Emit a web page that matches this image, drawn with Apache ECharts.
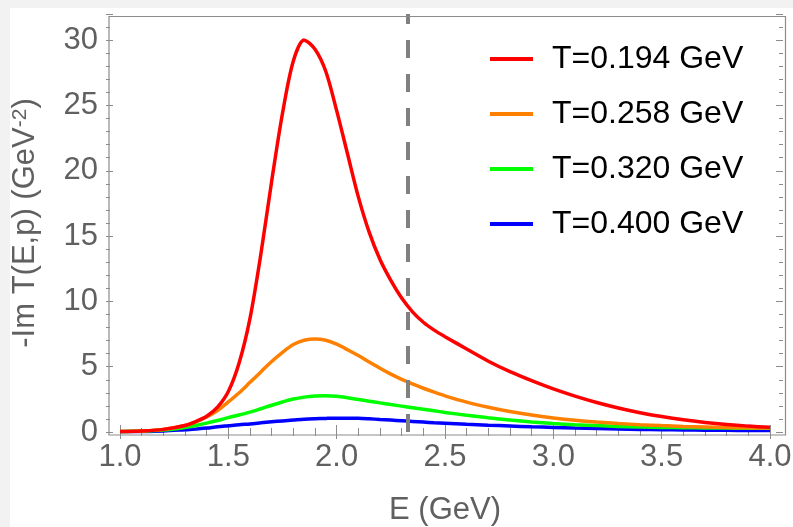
<!DOCTYPE html>
<html>
<head>
<meta charset="utf-8">
<script src="https://cdn.jsdelivr.net/npm/echarts@6/dist/echarts.min.js"></script>
<style>
  html, body { margin: 0; padding: 0; background: #f2f2f2; }
  #chart { position: absolute; left: 10px; top: 8px; width: 783px; height: 519px; background: #fff; }
</style>
</head>
<body>
<div id="chart"></div>
<script>
// energy grid (GeV)
const energies = [1.0, 1.1, 1.2, 1.3, 1.35, 1.4, 1.45, 1.5, 1.55, 1.6, 1.65, 1.7, 1.75, 1.8, 1.85, 1.9, 1.95, 2.0, 2.05, 2.1, 2.15, 2.2, 2.25, 2.3, 2.35, 2.4, 2.45, 2.5, 2.6, 2.7, 2.8, 2.9, 3.0, 3.1, 3.2, 3.3, 3.4, 3.5, 3.6, 3.7, 3.8, 3.9, 4.0]

// -Im T(E,p) per temperature
const t194 = [0.03, 0.08, 0.2, 0.5, 0.8, 1.2, 1.9, 3.1, 5.3, 8.7, 13.6, 19.2, 24.4, 28.4, 30.0, 29.3, 27.6, 24.6, 21.3, 18.0, 15.3, 13.2, 11.6, 10.25, 9.2, 8.4, 7.8, 7.3, 6.35, 5.42, 4.62, 3.93, 3.3, 2.75, 2.26, 1.84, 1.48, 1.18, 0.93, 0.73, 0.57, 0.45, 0.36]
const t258 = [0.03, 0.08, 0.2, 0.5, 0.78, 1.15, 1.65, 2.3, 3.0, 3.8, 4.6, 5.4, 6.1, 6.7, 7.02, 7.12, 7.02, 6.72, 6.3, 5.85, 5.36, 4.88, 4.43, 4.03, 3.68, 3.35, 3.05, 2.77, 2.29, 1.9, 1.57, 1.3, 1.08, 0.9, 0.76, 0.65, 0.56, 0.49, 0.43, 0.39, 0.35, 0.32, 0.3]
const t320 = [0.03, 0.07, 0.15, 0.35, 0.5, 0.68, 0.88, 1.1, 1.3, 1.52, 1.78, 2.05, 2.3, 2.52, 2.67, 2.76, 2.78, 2.73, 2.62, 2.49, 2.36, 2.23, 2.1, 1.98, 1.86, 1.74, 1.62, 1.5, 1.28, 1.09, 0.92, 0.77, 0.65, 0.56, 0.49, 0.43, 0.39, 0.35, 0.33, 0.31, 0.3, 0.29, 0.28]
const t400 = [0.02, 0.04, 0.08, 0.17, 0.22, 0.3, 0.4, 0.48, 0.56, 0.62, 0.7, 0.78, 0.85, 0.91, 0.97, 1.01, 1.04, 1.06, 1.06, 1.05, 1.01, 0.96, 0.91, 0.86, 0.81, 0.76, 0.71, 0.67, 0.59, 0.52, 0.46, 0.4, 0.35, 0.3, 0.26, 0.23, 0.2, 0.18, 0.16, 0.14, 0.13, 0.12, 0.12]

const seriesNames = ['T=0.194 GeV', 'T=0.258 GeV', 'T=0.320 GeV', 'T=0.400 GeV']
const seriesColors = ['#ff0000', '#ff8000', '#00ff00', '#0000ff']
const thresholdE = 2.335

const font = 'Liberation Sans, Arial, sans-serif'
const labelColor = '#606060'
const frameColor = '#8c8c8c'

const pairs = (vals) => energies.map((e, i) => [e, vals[i]])

function xAx(pos, interval, len, labels) {
  return {
    type: 'value', position: pos, min: 1, max: 4, interval,
    axisLine: { show: false }, splitLine: { show: false },
    axisTick: { show: true, inside: true, length: len, lineStyle: { color: frameColor, width: 1 } },
    axisLabel: labels
      ? { show: true, fontSize: 31, fontFamily: font, color: labelColor, margin: 10, formatter: (v) => v.toFixed(1) }
      : { show: false },
  }
}

function yAx(pos, interval, len, labels) {
  return {
    type: 'value', position: pos, min: 0, max: 32, interval,
    offset: pos === 'left' ? 14 : 13,
    axisLine: { show: false }, splitLine: { show: false },
    axisTick: { show: true, inside: true, length: len, lineStyle: { color: frameColor, width: 1 } },
    axisLabel: labels
      ? { show: true, fontSize: 31, fontFamily: font, color: labelColor, margin: 8, formatter: (v) => (v % 5 === 0 ? String(v) : '') }
      : { show: false },
  }
}

const xMain = xAx('bottom', 0.5, 7, true)
xMain.name = 'E (GeV)'
xMain.nameLocation = 'middle'
xMain.nameGap = 63
xMain.nameTextStyle = { fontSize: 31, fontFamily: font, color: labelColor }

const yMain = yAx('left', 5, 7, true)
yMain.name = '{m|-Im T(E,p) (GeV}{s|-2}{m|)}'
yMain.nameLocation = 'middle'
yMain.nameGap = 65
yMain.nameTextStyle = {
  rich: {
    m: { fontSize: 31, fontFamily: font, color: labelColor },
    s: { fontSize: 21, fontFamily: font, color: labelColor, verticalAlign: 'top' },
  },
}

const chart = echarts.init(document.getElementById('chart'), null, { renderer: 'canvas' })
chart.setOption({
  animation: false,
  backgroundColor: '#fff',
  grid: { left: 110, right: 23, top: 6, bottom: 95, outerBoundsMode: 'none' },
  xAxis: [xMain, xAx('bottom', 0.1, 4, false), xAx('top', 0.5, 7, false), xAx('top', 0.1, 4, false)],
  yAxis: [yMain, yAx('left', 1, 4, false), yAx('right', 5, 7, false), yAx('right', 1, 4, false)],
  legend: {
    orient: 'vertical', left: 475, top: 30, itemGap: 23,
    icon: 'rect', itemWidth: 43, itemHeight: 4,
    textStyle: { fontSize: 32, fontFamily: font, color: '#000', padding: [0, 0, 0, 14] },
    data: seriesNames,
  },
  graphic: [{
    type: 'rect', left: 96.5, top: 6, silent: true, z: 10,
    shape: { width: 676.5, height: 418.5 },
    style: { fill: 'none', stroke: frameColor, lineWidth: 1.2 },
  }],
  series: [t194, t258, t320, t400].map((vals, i) => ({
    name: seriesNames[i],
    type: 'line',
    data: pairs(vals),
    smooth: 0.3,
    symbol: 'none',
    color: seriesColors[i],
    lineStyle: { width: 3.5, color: seriesColors[i] },
    z: 5 - i,
    markLine: i === 0 ? {
      silent: true, symbol: 'none', label: { show: false },
      lineStyle: { color: '#808080', width: 4, type: [18, 16] },
      data: [{ xAxis: thresholdE }],
    } : undefined,
  })),
})
</script>
</body>
</html>
